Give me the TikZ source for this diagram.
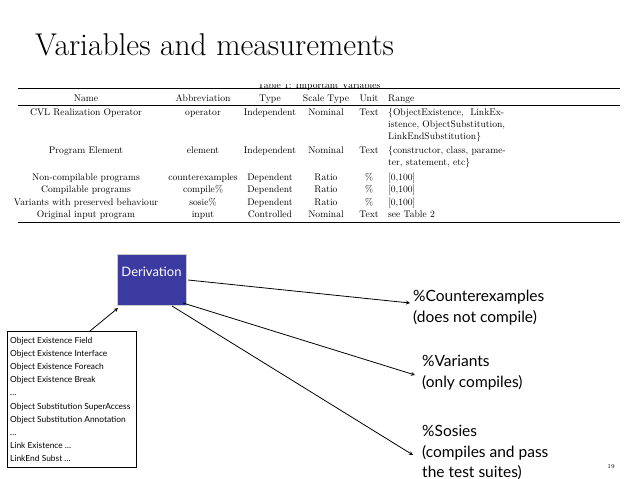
\documentclass[tikz,border=0pt]{standalone}
\usepackage{fontspec}
\newfontfamily\sansf{Lato}
\begin{document}
\begin{tikzpicture}[x=1pt,y=-1pt,
 tab/.style={font=\fontsize{9.6}{11}\selectfont,inner sep=0pt,anchor=base},
 tabl/.style={tab,anchor=base west},
 lst/.style={font=\sansf\fontsize{8.4}{9}\selectfont,inner sep=0pt,anchor=base west},
 big/.style={font=\sansf\fontsize{15.5}{20.5}\selectfont,align=left,inner sep=0pt,anchor=north west},
 arr/.style={->,>=stealth,line width=0.8pt}]
\useasboundingbox (0,0) rectangle (638,479);
\begin{scope}
\clip (0,84.5) rectangle (638,479);
\node[tab] (cap) at (319,88.5) {Table 1: Important Variables};
\end{scope}
\node[anchor=base west,inner sep=0pt,font=\fontsize{31.5}{34}\selectfont] (title) at (35,55) {Variables and measurements};
\draw[line width=0.5pt] (18,88) -- (620,88);
\draw[line width=0.5pt] (18,105) -- (620,105);
\draw[line width=0.5pt] (18,222) -- (620,222);
\foreach \y/\a/\b/\c/\d/\e/\f in {
 101/Name/Abbreviation/Type/Scale Type/Unit/Range,
 115/CVL Realization Operator/operator/Independent/Nominal/Text/{\{ObjectExistence,\ \ LinkEx-},
 153/Program Element/element/Independent/Nominal/Text/{\{constructor, class, parame-},
 180/Non-compilable programs/counterexamples/Dependent/Ratio/\%/{[0,100]},
 192/Compilable programs/compile\%/Dependent/Ratio/\%/{[0,100]},
 205/Variants with preserved behaviour/sosie\%/Dependent/Ratio/\%/{[0,100]},
 217/Original input program/input/Controlled/Nominal/Text/see Table 2}{
 \node[tab] at (86,\y) {\a};
 \node[tab] at (203,\y) {\b};
 \node[tab] at (270,\y) {\c};
 \node[tab] at (326,\y) {\d};
 \node[tab] at (369,\y) {\e};
 \node[tabl] at (388,\y) {\f};
}
\node[tabl] at (388,127) {istence, ObjectSubstitution,};
\node[tabl] at (388,139) {LinkEndSubstitution\}};
\node[tabl] at (388,165) {ter, statement, etc\}};

\node[fill={rgb,255:red,58;green,58;blue,160},draw=gray!40,line width=1pt,minimum width=69pt,minimum height=51pt,anchor=north west] (der) at (117,254) {};
\node[font=\sansf\fontsize{13}{14}\selectfont,text=white,inner sep=0pt,anchor=base] (dl) at (151.5,276) {Derivation};

\node[draw,line width=0.8pt,minimum width=129pt,minimum height=136pt,anchor=north west] (lb) at (7,331) {};
\foreach \i/\t in {0/Object Existence Field,1/Object Existence Interface,2/Object Existence Foreach,3/Object Existence Break,4/\dots,5/Object Substitution SuperAccess,6/Object Substitution Annotation,7/\dots,8/Link Existence \dots,9/LinkEnd Subst \dots}
 \node[lst] at (10,{343+13.2*\i}) {\t};

\node[big] (c1) at (413,290) {\%Counterexamples\\(does not compile)};
\node[big] (c2) at (422,355) {\%Variants\\(only compiles)};
\node[big] (c3) at (422,425) {\%Sosies\\(compiles and pass\\the test suites)};
\node[font=\fontsize{6}{7}\selectfont,inner sep=0pt] (pg) at (611,467) {19};

\coordinate (a0) at (90,331);
\coordinate (a1) at (118,308);
\draw[arr] (a0) -- (a1);
\coordinate (s1) at (188,280); \coordinate (e1) at (410,303);
\coordinate (s2) at (183,303); \coordinate (e2) at (415,375);
\coordinate (s3) at (172,306); \coordinate (e3) at (413,455);
\draw[arr] (s1) -- (e1);
\draw[arr] (s2) -- (e2);
\draw[arr] (s3) -- (e3);
\end{tikzpicture}
\end{document}
